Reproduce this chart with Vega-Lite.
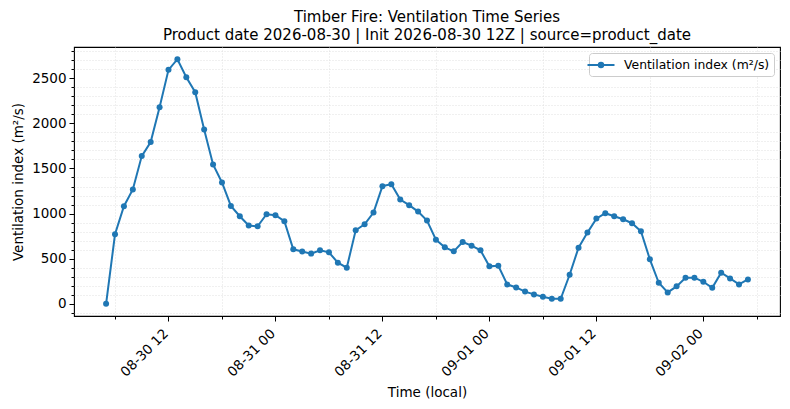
{
  "$schema": "https://vega.github.io/schema/vega-lite/v6.json",
  "autosize": "none",
  "padding": {"left": 74, "top": 47, "right": 10, "bottom": 93},
  "width": 706,
  "height": 269,
  "title": {
    "text": ["Timber Fire: Ventilation Time Series", "Product date 2026-08-30 | Init 2026-08-30 12Z | source=product_date"],
    "fontSize": 15,
    "lineHeight": 18.3,
    "fontWeight": "normal",
    "color": "black",
    "anchor": "middle",
    "offset": 4
  },
  "data": {
    "values": [
      {"time": "2026-08-30T05:00", "vi": 0},
      {"time": "2026-08-30T06:00", "vi": 770},
      {"time": "2026-08-30T07:00", "vi": 1082},
      {"time": "2026-08-30T08:00", "vi": 1267},
      {"time": "2026-08-30T09:00", "vi": 1637},
      {"time": "2026-08-30T10:00", "vi": 1793},
      {"time": "2026-08-30T11:00", "vi": 2178},
      {"time": "2026-08-30T12:00", "vi": 2593},
      {"time": "2026-08-30T13:00", "vi": 2711},
      {"time": "2026-08-30T14:00", "vi": 2511},
      {"time": "2026-08-30T15:00", "vi": 2345},
      {"time": "2026-08-30T16:00", "vi": 1933},
      {"time": "2026-08-30T17:00", "vi": 1545},
      {"time": "2026-08-30T18:00", "vi": 1345},
      {"time": "2026-08-30T19:00", "vi": 1085},
      {"time": "2026-08-30T20:00", "vi": 970},
      {"time": "2026-08-30T21:00", "vi": 867},
      {"time": "2026-08-30T22:00", "vi": 859},
      {"time": "2026-08-30T23:00", "vi": 993},
      {"time": "2026-08-31T00:00", "vi": 982},
      {"time": "2026-08-31T01:00", "vi": 915},
      {"time": "2026-08-31T02:00", "vi": 604},
      {"time": "2026-08-31T03:00", "vi": 580},
      {"time": "2026-08-31T04:00", "vi": 556},
      {"time": "2026-08-31T05:00", "vi": 593},
      {"time": "2026-08-31T06:00", "vi": 570},
      {"time": "2026-08-31T07:00", "vi": 456},
      {"time": "2026-08-31T08:00", "vi": 400},
      {"time": "2026-08-31T09:00", "vi": 815},
      {"time": "2026-08-31T10:00", "vi": 881},
      {"time": "2026-08-31T11:00", "vi": 1011},
      {"time": "2026-08-31T12:00", "vi": 1304},
      {"time": "2026-08-31T13:00", "vi": 1326},
      {"time": "2026-08-31T14:00", "vi": 1156},
      {"time": "2026-08-31T15:00", "vi": 1093},
      {"time": "2026-08-31T16:00", "vi": 1022},
      {"time": "2026-08-31T17:00", "vi": 922},
      {"time": "2026-08-31T18:00", "vi": 711},
      {"time": "2026-08-31T19:00", "vi": 626},
      {"time": "2026-08-31T20:00", "vi": 581},
      {"time": "2026-08-31T21:00", "vi": 685},
      {"time": "2026-08-31T22:00", "vi": 644},
      {"time": "2026-08-31T23:00", "vi": 593},
      {"time": "2026-09-01T00:00", "vi": 415},
      {"time": "2026-09-01T01:00", "vi": 422},
      {"time": "2026-09-01T02:00", "vi": 215},
      {"time": "2026-09-01T03:00", "vi": 181},
      {"time": "2026-09-01T04:00", "vi": 135},
      {"time": "2026-09-01T05:00", "vi": 104},
      {"time": "2026-09-01T06:00", "vi": 78},
      {"time": "2026-09-01T07:00", "vi": 56},
      {"time": "2026-09-01T08:00", "vi": 56},
      {"time": "2026-09-01T09:00", "vi": 322},
      {"time": "2026-09-01T10:00", "vi": 622},
      {"time": "2026-09-01T11:00", "vi": 789},
      {"time": "2026-09-01T12:00", "vi": 944},
      {"time": "2026-09-01T13:00", "vi": 1004},
      {"time": "2026-09-01T14:00", "vi": 970},
      {"time": "2026-09-01T15:00", "vi": 937},
      {"time": "2026-09-01T16:00", "vi": 893},
      {"time": "2026-09-01T17:00", "vi": 804},
      {"time": "2026-09-01T18:00", "vi": 493},
      {"time": "2026-09-01T19:00", "vi": 233},
      {"time": "2026-09-01T20:00", "vi": 126},
      {"time": "2026-09-01T21:00", "vi": 193},
      {"time": "2026-09-01T22:00", "vi": 289},
      {"time": "2026-09-01T23:00", "vi": 289},
      {"time": "2026-09-02T00:00", "vi": 244},
      {"time": "2026-09-02T01:00", "vi": 178},
      {"time": "2026-09-02T02:00", "vi": 344},
      {"time": "2026-09-02T03:00", "vi": 281},
      {"time": "2026-09-02T04:00", "vi": 215},
      {"time": "2026-09-02T05:00", "vi": 270}
    ]
  },
  "layer": [
    {
      "mark": {"type": "line", "strokeWidth": 2},
      "encoding": {
        "x": {
          "field": "time", "type": "temporal",
          "scale": {"domain": [
            {"year": 2026, "month": 8, "date": 30, "hours": 1, "minutes": 24},
            {"year": 2026, "month": 9, "date": 2, "hours": 8, "minutes": 36}
          ]},
          "axis": {
            "orient": "bottom", "labels": false, "title": null, "tickSize": 3,
            "gridDash": [1, 2], "gridColor": "#d9d9d9",
            "values": [
              {"year": 2026, "month": 8, "date": 30, "hours": 6},
              {"year": 2026, "month": 8, "date": 30, "hours": 18},
              {"year": 2026, "month": 8, "date": 31, "hours": 6},
              {"year": 2026, "month": 8, "date": 31, "hours": 18},
              {"year": 2026, "month": 9, "date": 1, "hours": 6},
              {"year": 2026, "month": 9, "date": 1, "hours": 18},
              {"year": 2026, "month": 9, "date": 2, "hours": 6}
            ]
          }
        },
        "y": {
          "field": "vi", "type": "quantitative",
          "scale": {"domain": [-135.5, 2846.5], "nice": false, "zero": false},
          "axis": {
            "orient": "left", "labels": false, "title": null, "tickSize": 3,
            "gridDash": [1, 2], "gridColor": "#d9d9d9",
            "values": [-100, 100, 200, 300, 400, 600, 700, 800, 900, 1100, 1200, 1300, 1400, 1600, 1700, 1800, 1900, 2100, 2200, 2300, 2400, 2600, 2700, 2800]
          }
        },
        "color": {
          "datum": "Ventilation index (m²/s)",
          "scale": {"range": ["#1f77b4"]},
          "legend": {
            "title": null,
            "orient": "top-right",
            "offset": 6,
            "padding": 4,
            "strokeColor": "#cccccc",
            "fillColor": "white",
            "cornerRadius": 3,
            "labelFontSize": 12.4,
            "labelColor": "black",
            "labelOffset": 15,
            "symbolType": "M-2,0H2M-0.33,0A0.33,0.33 0 1 1 0.33,0A0.33,0.33 0 1 1 -0.33,0Z",
            "symbolSize": 182,
            "symbolStrokeWidth": 2,
            "symbolFillColor": "#1f77b4",
            "symbolStrokeColor": "#1f77b4"
          }
        }
      }
    },
    {
      "mark": {"type": "point", "filled": true, "size": 36, "opacity": 1, "color": "#1f77b4"},
      "encoding": {
        "x": {
          "field": "time", "type": "temporal",
          "axis": {
            "orient": "bottom", "title": "Time (local)", "format": "%m-%d %H",
            "labelAngle": -45, "labelAlign": "right", "labelBaseline": "alphabetic",
            "tickSize": 5, "labelPadding": 13, "titlePadding": 7,
            "gridColor": "#a6a6a6",
            "values": [
              {"year": 2026, "month": 8, "date": 30, "hours": 12},
              {"year": 2026, "month": 8, "date": 31, "hours": 0},
              {"year": 2026, "month": 8, "date": 31, "hours": 12},
              {"year": 2026, "month": 9, "date": 1, "hours": 0},
              {"year": 2026, "month": 9, "date": 1, "hours": 12},
              {"year": 2026, "month": 9, "date": 2, "hours": 0}
            ]
          }
        },
        "y": {
          "field": "vi", "type": "quantitative",
          "axis": {
            "orient": "left", "title": "Ventilation index (m²/s)", "format": "d",
            "tickSize": 5, "labelPadding": 3, "titlePadding": 6,
            "gridColor": "#a6a6a6",
            "values": [0, 500, 1000, 1500, 2000, 2500]
          }
        }
      }
    }
  ],
  "resolve": {"axis": {"x": "independent", "y": "independent"}},
  "config": {
    "font": "DejaVu Sans",
    "view": {"stroke": "black", "strokeWidth": 1.1},
    "axis": {
      "domain": false,
      "grid": true,
      "gridWidth": 0.8,
      "tickColor": "black",
      "tickWidth": 1,
      "labelColor": "black",
      "labelFontSize": 13.5,
      "titleColor": "black",
      "titleFontSize": 13.5,
      "titleFontWeight": "normal"
    }
  }
}
